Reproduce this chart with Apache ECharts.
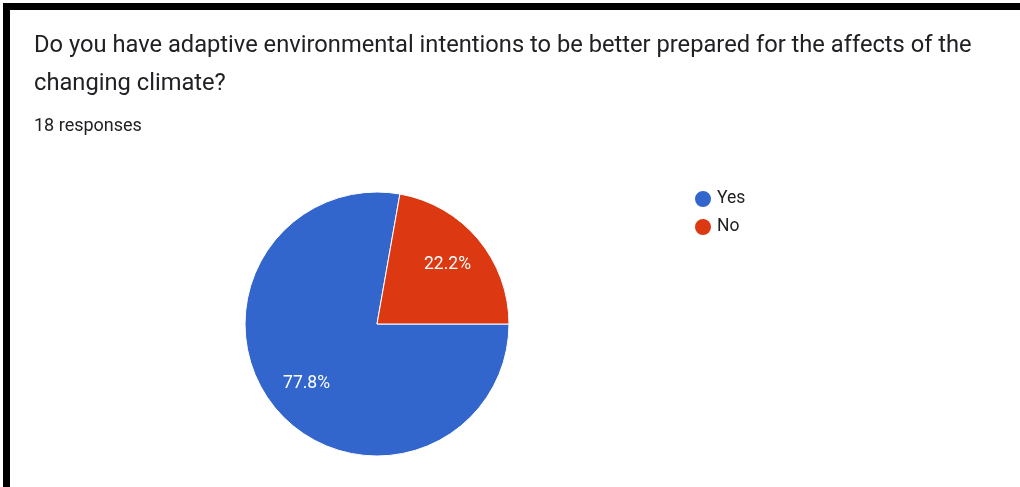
<!DOCTYPE html>
<html>
<head>
<meta charset="utf-8">
<script src="https://cdn.jsdelivr.net/npm/echarts@6/dist/echarts.min.js"></script>
<style>
  html, body { margin: 0; padding: 0; background: #fff; overflow: hidden; }
  #chart { position: absolute; left: 0; top: 0; width: 1020px; height: 487px; }
  #frame {
    position: absolute; left: 3px; top: 3px; width: 1030px; height: 477px;
    border-left: 7px solid #000; border-top: 7px solid #000; border-bottom: 5px solid #000;
    pointer-events: none;
  }
</style>
</head>
<body>
<div id="chart"></div>
<div id="frame"></div>
<script>
// Survey question and response counts
const questionLines = [
  'Do you have adaptive environmental intentions to be better prepared for the affects of the',
  'changing climate?'
];
const responseNote = '18 responses';
const answers = ['Yes', 'No'];
const answerCounts = [14, 4];
const answerColors = ['#3366cc', '#dc3912'];

const sliceData = answers.map((name, i) => ({
  name: name,
  value: answerCounts[i],
  itemStyle: { color: answerColors[i] }
}));

const fontFamily = 'Roboto, "Noto Sans", Arial, sans-serif';
const chart = echarts.init(document.getElementById('chart'));

chart.setOption({
  animation: false,
  backgroundColor: '#fff',
  title: [
    {
      text: questionLines.join('\n'),
      left: 29, top: 22,
      textStyle: { fontFamily, fontSize: 23.7, fontWeight: 'normal', color: '#202124', lineHeight: 38 }
    },
    {
      text: responseNote,
      left: 29, top: 112,
      textStyle: { fontFamily, fontSize: 18, fontWeight: 'normal', color: '#202124' }
    }
  ],
  legend: {
    orient: 'vertical',
    left: 688, top: 184,
    icon: 'circle',
    itemWidth: 18, itemHeight: 18,
    itemGap: 8,
    data: answers,
    textStyle: { fontFamily, fontSize: 17.5, color: '#222' }
  },
  series: [
    {
      type: 'pie',
      center: [377, 324],
      radius: 132,
      startAngle: 0,
      clockwise: true,
      data: sliceData,
      label: { show: false },
      labelLine: { show: false },
      itemStyle: { borderColor: '#fff', borderWidth: 1 },
      emphasis: { disabled: true }
    },
    {
      // transparent ring used only to place the percentage labels
      type: 'pie',
      center: [377, 324],
      radius: [46, 132],
      startAngle: 0,
      clockwise: true,
      silent: true,
      data: sliceData.map(d => ({ name: d.name, value: d.value })),
      itemStyle: { color: 'rgba(0,0,0,0)' },
      label: {
        show: true,
        position: 'inside',
        formatter: p => p.percent.toFixed(1) + '%',
        fontFamily, fontSize: 17.5, color: '#fff'
      },
      labelLine: { show: false },
      emphasis: { disabled: true }
    }
  ]
});
</script>
</body>
</html>
